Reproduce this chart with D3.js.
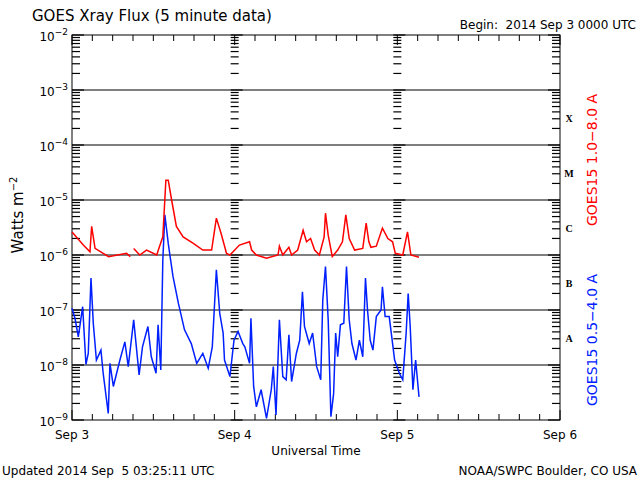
<!DOCTYPE html>
<html><head><meta charset="utf-8">
<script src="https://cdn.jsdelivr.net/npm/d3@7"></script>
<style>
body{margin:0;background:#fff}
text{font-family:"DejaVu Sans",sans-serif;fill:#000}
</style></head><body>
<svg id="chart" width="640" height="480"></svg>
<script>
// hours since 2014 Sep 3 0000 UTC, and log10 flux
var longHours = [0,1.67,2.65,2.9,3.4,4.6,5.4,8.05,8.6,null,9.1,10,11,12.5,12.9,13.4,13.85,14.2,14.7,15.4,16.4,17.9,19.3,20.6,21.3,22,22.8,23.3,24.7,26.2,26.5,27.2,28.7,30.4,30.6,31.1,32,32.4,33.3,34.1,34.6,35.2,35.8,36.5,37.2,37.4,37.8,38.4,39.2,39.9,40.4,40.9,41.7,42.9,43.4,43.8,44.1,44.9,45.8,46.6,47.3,47.7,48.8,49.5,50,51.2];
var longLog = [-5.58,-5.82,-5.94,-5.48,-5.88,-5.97,-6.03,-5.97,-6.03,null,-5.88,-6.0,-5.91,-6.0,-5.85,-5.67,-4.64,-4.64,-5.0,-5.48,-5.67,-5.79,-5.91,-5.91,-5.33,-5.61,-5.97,-6.0,-5.82,-5.76,-5.91,-6.0,-6.06,-6.0,-5.84,-6.0,-5.86,-6.0,-5.91,-5.55,-5.76,-5.7,-5.91,-6.0,-5.67,-5.24,-5.64,-6.03,-5.91,-5.76,-5.27,-5.7,-5.91,-5.88,-5.42,-5.76,-5.86,-5.84,-5.51,-5.7,-5.76,-5.97,-6.0,-5.58,-6.0,-6.04];
var shortHours = [0,0.44,0.93,1.57,2.06,2.4,2.8,3.14,3.6,4.27,4.6,5.35,5.6,6.1,7.07,7.8,8.3,9.1,9.9,10.4,11.2,11.7,12.4,12.7,13.1,13.4,13.7,14.2,14.9,15.7,16.6,17.6,18.4,19.3,20.1,20.7,21.3,21.8,22.3,22.5,23.3,23.9,24.5,25.2,25.5,26.2,26.4,26.8,27.2,27.9,28.7,29.4,29.7,30.1,30.6,31.1,31.6,32,32.4,33.1,33.6,34,34.3,35,35.5,36.1,36.7,37,37.4,37.8,38.2,38.6,38.9,39.2,39.6,40.1,40.5,40.9,41.3,41.9,42.4,42.9,43.3,43.6,44,44.4,44.9,45.6,45.8,46.2,46.8,47.3,47.6,48.3,48.8,49.3,49.6,49.9,50.3,50.7,51.2];
var shortLog = [-6.97,-7.15,-7.49,-6.94,-7.99,-7.79,-6.42,-7.24,-7.91,-7.73,-8.15,-8.88,-7.97,-8.39,-7.91,-7.58,-8.03,-7.18,-8.18,-7.67,-7.3,-7.85,-8.15,-7.27,-8.09,-6.09,-5.27,-5.79,-6.39,-6.88,-7.36,-7.61,-7.97,-7.79,-8.06,-7.67,-6.27,-7.06,-7.42,-7.91,-8.21,-7.55,-7.39,-7.61,-7.67,-7.97,-7.15,-8.39,-8.76,-8.45,-8.97,-8.45,-8.03,-8.91,-7.18,-8.21,-8.27,-7.45,-8.3,-7.79,-7.55,-6.67,-7.3,-7.61,-7.42,-8.03,-8.27,-6.82,-6.21,-7.18,-8.94,-8.52,-7.42,-7.85,-7.27,-7.24,-6.21,-7.18,-7.61,-7.91,-7.55,-7.85,-6.42,-7.0,-7.55,-7.73,-7.12,-7.0,-6.58,-7.12,-7.12,-7.61,-7.91,-8.15,-8.27,-7.42,-6.7,-7.3,-8.45,-7.91,-8.58];
var dayLabels = ["Sep 3","Sep 4","Sep 5","Sep 6"];
var decades = [-9,-8,-7,-6,-5,-4,-3,-2];
var classLetters = [["A",-8],["B",-7],["C",-6],["M",-5],["X",-4]];

var svg = d3.select("#chart");
var plotLeft = 72, plotRight = 560, plotTop = 35, plotBottom = 420;

var x = d3.scaleLinear().domain([0, 72]).range([plotLeft, plotRight]);
var y = d3.scaleLinear().domain([-9, -2]).range([plotBottom, plotTop]);

// frame
svg.append("rect").attr("x", plotLeft).attr("y", plotTop)
    .attr("width", plotRight - plotLeft).attr("height", plotBottom - plotTop)
    .attr("fill", "none").attr("stroke", "#000");

// decade gridlines
svg.append("g").selectAll("line").data(decades.slice(1, -1)).enter().append("line")
    .attr("x1", plotLeft).attr("x2", plotRight)
    .attr("y1", d => y(d)).attr("y2", d => y(d))
    .attr("stroke", "#000").attr("stroke-width", 1.2);

// minor log ticks on left, right and at day boundaries
var minors = [];
decades.slice(0, -1).forEach(function(d){
  for (var k = 2; k < 10; k++) minors.push(d + Math.log10(k));
});
[[plotLeft, 8], [plotRight, -8], [x(24) - 4, 8], [x(48) - 4, 8]].forEach(function(p){
  svg.append("g").selectAll("line").data(minors).enter().append("line")
      .attr("x1", p[0]).attr("x2", p[0] + p[1])
      .attr("y1", d => y(d)).attr("y2", d => y(d))
      .attr("stroke", "#000").attr("stroke-width", 1.2);
  svg.append("g").selectAll("line").data(decades).enter().append("line")
      .attr("x1", p[0]).attr("x2", p[0] + p[1] * 1.5)
      .attr("y1", d => y(d)).attr("y2", d => y(d))
      .attr("stroke", "#000").attr("stroke-width", 1.2);
});

// x ticks every 3 hours
var hourTicks = d3.range(0, 73, 3);
svg.append("g").selectAll("line").data(hourTicks).enter().append("line")
    .attr("x1", d => x(d)).attr("x2", d => x(d))
    .attr("y1", plotBottom).attr("y2", d => plotBottom - (d % 24 == 0 ? 10 : 6))
    .attr("stroke", "#000");
svg.append("g").selectAll("line").data(hourTicks).enter().append("line")
    .attr("x1", d => x(d)).attr("x2", d => x(d))
    .attr("y1", plotTop).attr("y2", d => plotTop + (d % 24 == 0 ? 10 : 6))
    .attr("stroke", "#000");
svg.append("g").selectAll("text").data(dayLabels).enter().append("text")
    .attr("x", (d, i) => x(i * 24)).attr("y", 439)
    .attr("text-anchor", "middle").attr("font-size", 12).text(d => d);

// y labels 10^n
decades.forEach(function(d){
  var t = svg.append("text").attr("x", plotLeft - 4).attr("y", y(d) + 6)
      .attr("text-anchor", "end").attr("font-size", 12);
  t.append("tspan").text("10");
  t.append("tspan").attr("dy", -6).attr("font-size", 9).text("\u2212" + (-d));
});

// class letters
classLetters.forEach(function(c){
  svg.append("text").attr("x", 569).attr("y", y(c[1] + 0.5) + 4)
      .attr("text-anchor", "middle").attr("font-size", 10)
      .attr("font-weight", "bold").style("font-family", "'Liberation Serif',serif")
      .text(c[0]);
});

// lines
function series(hours, logs){
  return hours.map((h, i) => [h, logs[i]]);
}
var line = d3.line().defined(d => d[0] != null)
    .x(d => x(d[0])).y(d => y(d[1]));
svg.append("path").attr("d", line(series(shortHours, shortLog)))
    .attr("fill", "none").attr("stroke", "#0020ff").attr("stroke-width", 1.5);
svg.append("path").attr("d", line(series(longHours, longLog)))
    .attr("fill", "none").attr("stroke", "#ff0000").attr("stroke-width", 1.5);

// texts
svg.append("text").attr("x", 32).attr("y", 21).attr("font-size", 15)
    .text("GOES Xray Flux (5 minute data)");
svg.append("text").attr("x", 636).attr("y", 29).attr("font-size", 12)
    .attr("text-anchor", "end").attr("xml:space", "preserve")
    .text("Begin:  2014 Sep 3 0000 UTC");
svg.append("text").attr("x", 316).attr("y", 455).attr("font-size", 12)
    .attr("text-anchor", "middle").text("Universal Time");
svg.append("text").attr("x", 2).attr("y", 475).attr("font-size", 12)
    .attr("xml:space", "preserve").text("Updated 2014 Sep  5 03:25:11 UTC");
svg.append("text").attr("x", 637).attr("y", 475).attr("font-size", 12)
    .attr("text-anchor", "end").text("NOAA/SWPC Boulder, CO USA");
var wl = svg.append("text").attr("transform", "translate(23,215) rotate(-90)")
    .attr("text-anchor", "middle").attr("font-size", 15);
wl.append("tspan").text("Watts m");
wl.append("tspan").attr("dy", -6).attr("font-size", 10).text("\u22122");
svg.append("text").attr("transform", "translate(597,160) rotate(-90)")
    .attr("text-anchor", "middle").attr("font-size", 14).style("fill", "#ff0000")
    .text("GOES15 1.0\u22128.0 A");
svg.append("text").attr("transform", "translate(597,340) rotate(-90)")
    .attr("text-anchor", "middle").attr("font-size", 14).style("fill", "#0020ff")
    .text("GOES15 0.5\u22124.0 A");
</script>
</body></html>
